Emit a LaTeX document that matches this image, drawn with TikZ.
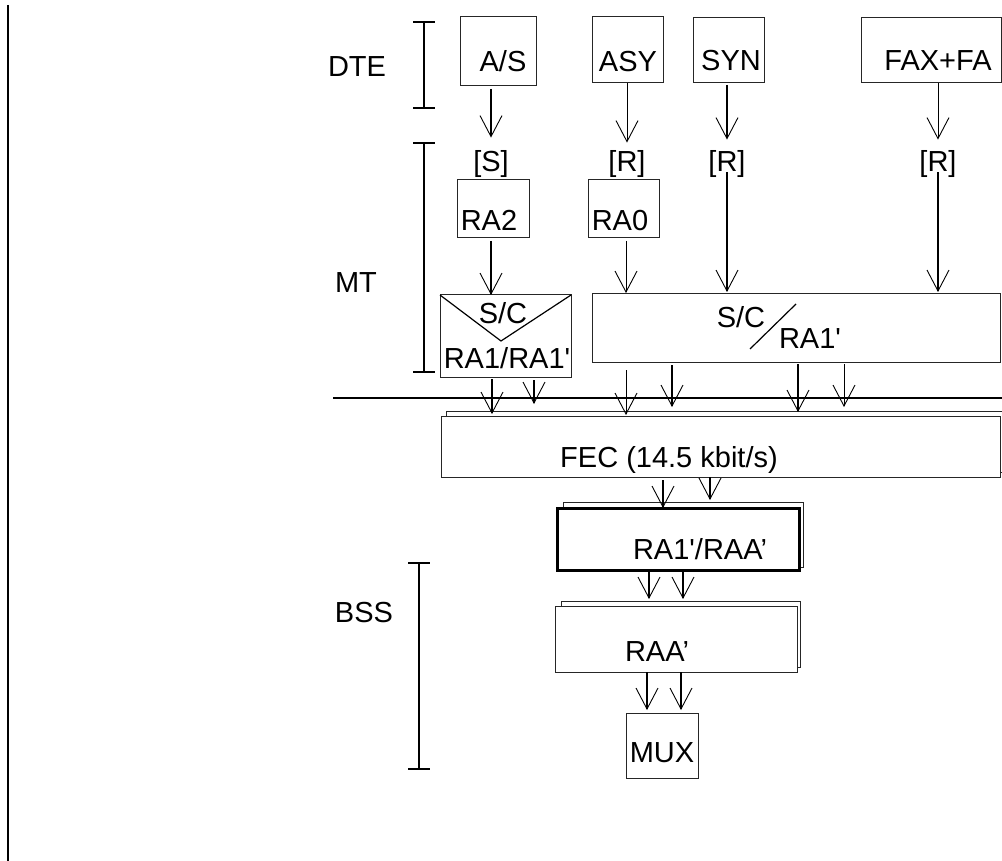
\documentclass[tikz,border=0pt]{standalone}
\usepackage{fontspec}
\setmainfont{Liberation Sans}[Ligatures=TeXOff]
\usetikzlibrary{arrows.meta}
\begin{document}
\begin{tikzpicture}[x=1pt,y=-1pt,
  txt/.style={inner sep=0pt, text height=20.5pt, text depth=0pt, font=\fontsize{29}{34}\selectfont},
  box/.style={draw=black!85, line width=1pt, inner sep=0pt, outer sep=0pt, fill=white},
  arr/.style={-{Straight Barb[length=21pt,width=22pt,line width=0.9pt]}, line width=0.9pt},
  thk/.style={line width=1.7pt},
  brk/.style={line width=1.5pt}
]
\useasboundingbox (0,0) rectangle (1002,861);
% left border line
\draw[line width=2.5pt] (8,5) -- (8,861);
% brackets
\draw[brk] (413,22) -- (435,22) (424,22) -- (424,108) (413,108) -- (435,108);
\draw[brk] (413,143) -- (435,143) (424,143) -- (424,372) (413,372) -- (435,372);
\draw[brk] (408,563) -- (430,563) (419,563) -- (419,769) (408,769) -- (430,769);
\node[txt] (dte) at (357,66) {DTE};
\node[txt] (mt) at (356,282) {MT};
\node[txt] (bss) at (364,612) {BSS};
% columns
\foreach \c in {491,492,534,626,627,647,649,663,672,681,683,710,727,798,844,938}
  \coordinate (c\c) at (\c,0);
% top boxes
\node[box, minimum width=76pt, minimum height=69pt] (as) at (498,51.5) {};
\node[txt] (ast) at (503,61) {A/S};
\node[box, minimum width=71pt, minimum height=66pt] (asy) at (627.5,50) {};
\node[txt] (asyt) at (628,61) {ASY};
\node[box, minimum width=71pt, minimum height=65pt] (syn) at (728.5,50.5) {};
\node[txt] (synt) at (731,60) {SYN};
\node[box, minimum width=140pt, minimum height=65pt] (fax) at (931,50.5) {};
\node[txt] (faxt) at (938,60) {FAX+FA};
% labels
\node[txt] (ls) at (491,161) {[S]};
\node[txt] (lr1) at (627,161) {[R]};
\node[txt] (lr2) at (727,161) {[R]};
\node[txt] (lr3) at (938,161) {[R]};
% arrows top
\draw[arr, thk, shorten <=3pt, shorten >=13pt] (as.south -| c491) -- (ls.north -| c491);
\draw[arr, shorten >=8pt] (asy.south -| c627) -- (lr1.north -| c627);
\draw[arr, thk, shorten <=2pt, shorten >=11pt] (syn.south -| c727) -- (lr2.north -| c727);
\draw[arr, shorten >=11pt] (fax.south -| c938) -- (lr3.north -| c938);
% RA boxes
\node[box, minimum width=72pt, minimum height=58pt] (ra2) at (493,209) {};
\node[txt] (ra2t) at (489,220) {RA2};
\node[box, minimum width=71pt, minimum height=58pt] (ra0) at (623.5,209) {};
\node[txt] (ra0t) at (620,220) {RA0};
% S/C left box
\node[box, minimum width=131pt, minimum height=82pt] (lsc) at (505.5,336) {};
\draw[line width=1.2pt] (lsc.north west) -- (501,341) -- (lsc.north east);
\node[txt] (lsct) at (503,313) {S/C};
\node[txt] (lscb) at (507,358) {RA1/RA1'};
% S/C big box
\node[box, minimum width=408pt, minimum height=68pt] (bsc) at (796,328) {};
\node[txt] (bsct) at (741,317) {S/C};
\draw[line width=1.2pt] (750,349) -- (796,304);
\node[txt] (bscb) at (810,338) {RA1'};
% arrows to S/C boxes
\draw[arr, thk, shorten <=3pt] (ra2.south -| c491) -- (lsc.north -| c491);
\draw[arr, shorten <=3pt, shorten >=1pt] (ra0.south -| c626) -- (bsc.north -| c626);
\draw[arr, thk, shorten <=1pt, shorten >=2pt] (lr2.south -| c727) -- (bsc.north -| c727);
\draw[arr, thk, shorten <=1pt, shorten >=2pt] (lr3.south -| c938) -- (bsc.north -| c938);
% horizontal divider
\draw[line width=2pt] (333,398) -- (1002,398);
% FEC box
\node[box, minimum width=556pt, minimum height=61pt] (fecb) at (724,441.5) {};
\node[box, minimum width=559pt, minimum height=61pt] (fec) at (720.5,446.5) {};
\node[txt] (fect) at (669,457) {FEC (14.5 kbit/s)};
% arrows to FEC
\draw[arr, thk, shorten <=2pt, shorten >=2pt] (lsc.south -| c492) -- (fec.north -| c492);
\draw[arr, thk, shorten <=3pt, shorten >=12pt] (lsc.south -| c534) -- (fec.north -| c534);
\draw[arr, shorten <=8pt, shorten >=1pt] (bsc.south -| c626) -- (fec.north -| c626);
\draw[arr, thk, shorten <=3pt, shorten >=9pt] (bsc.south -| c672) -- (fec.north -| c672);
\draw[arr, thk, shorten <=2pt, shorten >=4pt] (bsc.south -| c798) -- (fec.north -| c798);
\draw[arr, shorten <=2pt, shorten >=9pt] (bsc.south -| c844) -- (fec.north -| c844);
% RA1'/RAA' box
\node[box, minimum width=240pt, minimum height=65pt] (rabb) at (683,534.5) {};
\node[box, line width=3pt, draw=black, minimum width=242pt, minimum height=62pt] (rab) at (678,539) {};
\node[txt] (rabt) at (700,549) {RA1'/RAA’};
\draw[arr, thk, shorten <=3pt] (fec.south -| c663) -- (rab.north -| c663);
\draw[arr, thk, shorten >=8pt] (fec.south -| c710) -- (rab.north -| c710);
% RAA' box
\node[box, minimum width=239pt, minimum height=66pt] (raabb) at (680.5,634) {};
\node[box, minimum width=242pt, minimum height=66pt] (raab) at (676,639) {};
\node[txt] (raabt) at (657,651) {RAA’};
\draw[arr, thk, shorten >=7pt] (rab.south -| c649) -- (raab.north -| c649);
\draw[arr, thk, shorten >=7pt] (rab.south -| c683) -- (raab.north -| c683);
% MUX
\node[box, minimum width=72pt, minimum height=65pt] (mux) at (662,745.5) {};
\node[txt] (muxt) at (662,752) {MUX};
\draw[arr, thk, shorten >=3pt] (raab.south -| c647) -- (mux.north -| c647);
\draw[arr, thk, shorten >=3pt] (raab.south -| c681) -- (mux.north -| c681);
\end{tikzpicture}
\end{document}
